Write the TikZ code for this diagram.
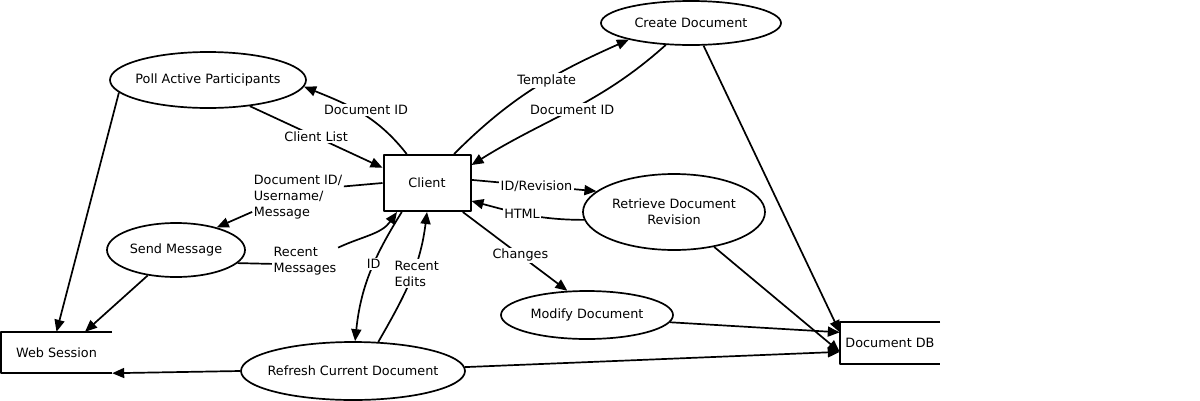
\documentclass[tikz,border=0pt]{standalone}
\usepackage{fontspec}
\setmainfont{DejaVu Sans}
\usetikzlibrary{arrows.meta,shapes.geometric}

\begin{document}
\begin{tikzpicture}[x=1pt,y=-1pt,line join=round,
  font=\fontsize{12.8}{16}\selectfont,
  proc/.style={draw,ellipse,line width=1.7pt,inner xsep=-8pt,inner ysep=0pt,align=center},
  extent/.style={draw,rectangle,line width=2pt,inner sep=0pt},
  store/.style={rectangle,inner sep=0pt},
  wall/.style={line width=1.7pt},
  flow/.style={line width=1.7pt,-{Triangle[length=12pt,width=10pt]}},
  lbl/.style={fill=white,inner sep=1.5pt,align=left}]
\useasboundingbox (0,0) rectangle (1200,400);

% processes, entity and stores
\node[proc,minimum width=196pt,minimum height=56pt] (poll) at (208,80) {Poll Active Participants};
\node[proc,minimum width=180pt,minimum height=44pt] (create) at (691,23) {Create Document};
\node[proc,minimum width=182pt,minimum height=76pt] (retr) at (674,212) {Retrieve Document\\Revision};
\node[proc,minimum width=138pt,minimum height=54pt] (send) at (176,250) {Send Message};
\node[proc,minimum width=172pt,minimum height=48pt] (modify) at (587,315) {Modify Document};
\node[proc,minimum width=224pt,minimum height=58pt] (refresh) at (353,371) {Refresh Current Document};
\node[extent,minimum width=87pt,minimum height=56pt] (client) at (427,183) {Client};
\node[store,minimum width=111pt,minimum height=41pt] (web) at (56.5,352.5) {Web Session};
\draw[wall] (web.north east) -- (web.north west) -- (web.south west) -- (web.south east);
\node[store,minimum width=100pt,minimum height=41pt] (db) at (890,343) {Document DB};
\draw[wall] (db.north east) -- (db.north west) -- (db.south west) -- (db.south east);

% poll active participants
\draw[flow] (poll.188) -- (web.north);
\draw[flow] (client.125) to[out=128,in=-22] node[lbl,pos=0.55,xshift=10pt] {Document ID} (poll.-4);
\draw[flow] (poll.-32) -- node[lbl] {Client List} (client.161);

% send message
\node[lbl] (docmsg) at (298,197) {Document ID/\\Username/\\Message};
\draw[wall] (client.west) -- (docmsg.13);
\draw[flow] (docmsg.198) -- (send.29);
\node[lbl] (recmsg) at (305,261) {Recent\\Messages};
\draw[wall] (send.-12) -- (recmsg.185);
\draw[flow] (recmsg.22) to[out=25,in=235] (client.224);
\draw[flow] (send.222) -- (web.36);

% refresh current document
\draw[flow] (client.229) to[out=238,in=84] node[lbl,pos=0.42] {ID} (refresh.86);
\draw[flow] (refresh.49) to[out=60,in=263] node[lbl,pos=0.55,xshift=4pt] {Recent\\Edits} (client.south);
\draw[flow] (refresh.west) -- (web.south east);
\draw[flow] (refresh.2) -- (db.190);

% create document
\draw[flow] (client.47) to[out=45,in=204] node[lbl,pos=0.57] {Template} (create.195);
\draw[flow] (create.221) to[out=222,in=32] node[lbl,pos=0.5] {Document ID} (client.22);
\draw[flow] (create.-61) -- (db.168);

% retrieve document revision
\draw[flow] (client.4) -- node[lbl,pos=0.52] {ID/Revision} (retr.165);
\draw[flow] (retr.185) to[out=180,in=-15] node[lbl,pos=0.55] {HTML} (client.-22);
\draw[flow] (retr.-41) -- (db.190);

% modify document
\draw[flow] (client.-39) -- node[lbl,pos=0.55] {Changes} (modify.129);
\draw[flow] (modify.-5) -- (db.168);
\end{tikzpicture}
\end{document}
